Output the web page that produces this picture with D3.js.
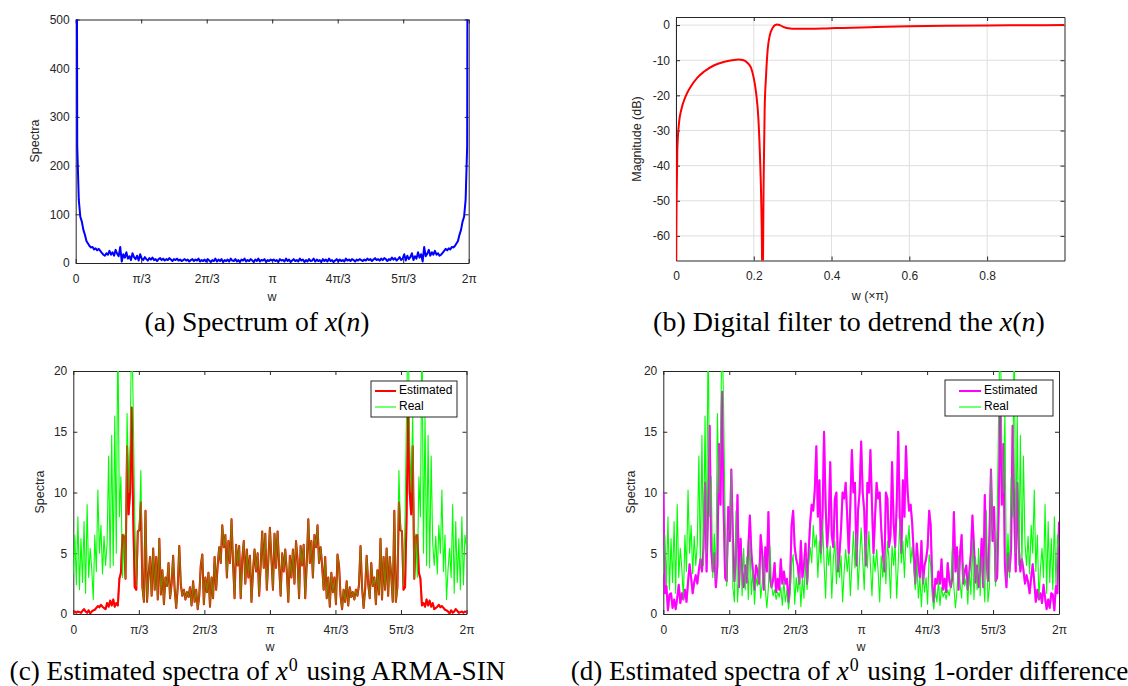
<!DOCTYPE html>
<html><head><meta charset="utf-8">
<script src="https://cdn.jsdelivr.net/npm/d3@7"></script>
<style>body{margin:0;background:#fff}svg{display:block}</style>
</head><body>
<svg id="fig" width="1128" height="686"></svg>
<script>
// ---------------- data ----------------
const piTickLabels = ["0","π/3","2π/3","π","4π/3","5π/3","2π"];
const piTickUnits = [0,1,2,3,4,5,6];           // multiples of π/3
const spectraATicks = [0,100,200,300,400,500];
const spectraCTicks = [0,5,10,15,20];
const filterXTicks = [0,0.2,0.4,0.6,0.8];
const filterXTickLabels = ["0","0.2","0.4","0.6","0.8"];
const filterYTicks = [0,-10,-20,-30,-40,-50,-60];

// (a) spectrum of x(n), 257 bins on [0, 2π]
const spectrumX = [2000,240,130,95,85,68,58,45,40,35,32,33,28,30,26,29,25,21,17,15,20,17,25,17,22,15,27,19,14,33,3,18,11,22,9,14,6,20,12,8,15,5,18,9,6,12,8,5,10,7,11,6,8,4,8,10,6,9,5,8,6,10,7,4,8,6,9,5,7,4,6,8,5,7,3,6,8,4,7,5,9,3,6,4,7,3,8,5,2,6,4,9,3,7,4,8,2,6,4,7,3,9,5,4,8,3,6,2,7,5,9,3,6,4,8,5,2,7,4,9,3,6,5,8,2,6,4,7,5,
7,4,6,2,8,5,6,3,9,4,7,2,5,8,4,6,3,9,5,7,2,6,3,8,4,5,9,3,7,4,6,2,8,4,7,3,9,4,6,2,5,8,3,7,4,6,3,9,5,7,4,8,6,3,7,5,8,6,4,7,5,9,6,8,4,7,10,6,8,5,9,6,10,8,4,8,6,11,7,10,5,8,12,6,9,18,5,15,8,12,20,6,14,9,22,11,18,3,33,14,19,27,15,22,17,25,17,20,15,17,21,25,29,26,30,28,33,32,35,40,45,58,68,85,95,130,240,2000];

// (b) digital filter magnitude response
const filterW  = [0,0.0008,0.0017,0.0034,0.0077,0.0136,0.0247,0.0374,0.0545,0.0715,0.097,0.1226,0.144,0.161,0.174,0.184,0.193,0.199,0.206,0.212,0.216,0.2196,0.2213,0.2225,0.2238,0.2255,0.228,0.2315,0.2357,0.2417,0.2485,0.2545,0.2604,0.267,0.2757,0.2885,0.31,0.344,0.386,0.429,0.5,0.6,0.7,0.8,0.9,0.999];
const filterDb = [-120,-62,-48.9,-35.5,-27.9,-24.1,-20.3,-17.6,-15.0,-13.3,-11.5,-10.5,-10.0,-9.8,-10.0,-10.8,-12.2,-14.6,-19.3,-26.9,-37.4,-52.6,-67,-120,-67,-43,-24,-14.6,-7.0,-2.7,-0.8,0,0.2,0,-0.5,-0.9,-1.05,-1.05,-0.95,-0.8,-0.6,-0.35,-0.2,-0.1,-0.05,0];

// real spectra of x0 (same in c and d)
const realSpectra = [3.3,6.5,2.4,8.0,2.0,6.2,2.6,7.6,1.7,9.0,3.0,5.4,3.7,1.2,6.5,3.5,10.2,5.0,7.3,3.3,6.4,4.0,5.8,13.0,3.8,14.7,4.0,16.3,5.0,24.0,8.0,11.3,3.0,6.6,2.9,16.5,10.0,14.0,24.0,17.0,8.0,2.3,6.8,7.0,11.8,2.2,1.0,8.5,1.0,3.2,4.7,1.5,5.4,2.0,4.7,1.2,6.2,1.6,3.6,0.8,3.0,2.3,4.2,1.3,2.5,4.8,2.0,0.5,2.2,5.6,2.4,1.5,2.0,1.2,1.8,1.4,2.2,0.7,2.7,1.0,2.0,0.4,1.5,4.0,4.9,0.8,3.0,1.8,3.4,0.6,3.0,1.3,4.7,2.0,4.0,5.5,4.2,7.3,5.5,6.5,3.0,6.0,4.2,7.8,4.2,1.3,5.7,4.0,5.6,1.3,4.5,6.0,2.5,5.3,3.0,4.8,1.0,3.5,5.3,3.5,5.0,1.5,4.0,6.8,3.8,6.6,2.0,4.5,7.1,
4.5,2.0,6.6,3.8,6.8,4.0,1.5,5.0,3.5,5.3,3.5,1.0,4.8,3.0,5.3,2.5,6.0,4.5,1.3,5.6,4.0,5.7,1.3,4.2,7.8,4.2,6.0,3.0,6.5,5.5,7.3,4.2,5.5,4.0,2.0,4.7,1.3,3.0,0.6,3.4,1.8,3.0,0.8,4.9,4.0,1.5,0.4,2.0,1.0,2.7,0.7,2.2,1.4,1.8,1.2,2.0,1.5,2.4,5.6,2.2,0.5,2.0,4.8,2.5,1.3,4.2,2.3,3.0,0.8,3.6,1.6,6.2,1.2,4.7,2.0,5.4,1.5,4.7,3.2,1.0,8.5,1.0,2.2,11.8,7.0,6.8,2.3,8.0,17.0,24.0,14.0,10.0,16.5,2.9,6.6,3.0,11.3,8.0,24.0,5.0,16.3,4.0,14.7,3.8,13.0,5.8,4.0,6.4,3.3,7.3,5.0,10.2,3.5,6.5,1.2,3.7,5.4,3.0,9.0,1.7,7.6,2.6,6.2,2.0,8.0,2.4,6.5,5.5];

// (c) estimated spectra using ARMA-SIN
const armaSinSpectra = [0.15,0.2,0.1,0.2,0.15,0.1,0.25,0.4,0.2,0.1,0.3,0.05,0.2,0.3,0.35,0.5,0.65,0.55,0.75,0.6,0.5,0.4,0.9,0.6,1.1,0.7,1.2,0.6,0.9,0.7,2.9,3.4,6.5,6.4,2.9,13.8,8.2,10.0,17.0,8.0,2.2,2.0,6.8,6.9,9.2,
2.2,1.0,8.5,1.0,3.2,4.7,1.5,5.4,2.0,4.7,1.2,6.2,1.6,3.6,0.8,3.0,2.3,4.2,1.3,2.5,4.8,2.0,0.5,2.2,5.6,2.4,1.5,2.0,1.2,1.8,1.4,2.2,0.7,2.7,1.0,2.0,0.4,1.5,4.0,4.9,0.8,3.0,1.8,3.4,0.6,3.0,1.3,4.7,2.0,4.0,5.5,4.2,7.3,5.5,6.5,3.0,6.0,4.2,7.8,4.2,1.3,5.7,4.0,5.6,1.3,4.5,6.0,2.5,5.3,3.0,4.8,1.0,3.5,5.3,3.5,5.0,1.5,4.0,6.8,3.8,6.6,2.0,4.5,7.1,
4.5,2.0,6.6,3.8,6.8,4.0,1.5,5.0,3.5,5.3,3.5,1.0,4.8,3.0,5.3,2.5,6.0,4.5,1.3,5.6,4.0,5.7,1.3,4.2,7.8,4.2,6.0,3.0,6.5,5.5,7.3,4.2,5.5,4.0,2.0,4.7,1.3,3.0,0.6,3.4,1.8,3.0,0.8,4.9,4.0,1.5,0.4,2.0,1.0,2.7,0.7,2.2,1.4,1.8,1.2,2.0,1.5,2.4,5.6,2.2,0.5,2.0,4.8,2.5,1.3,4.2,2.3,3.0,0.8,3.6,1.6,6.2,1.2,4.7,2.0,5.4,1.5,4.7,3.2,1.0,8.5,1.0,2.2,
9.2,6.9,6.8,2.0,2.2,8.0,17.0,10.0,8.2,13.8,2.9,6.4,6.5,3.4,2.9,0.7,0.9,0.6,1.2,0.7,1.1,0.6,0.9,0.4,0.5,0.6,0.75,0.55,0.65,0.5,0.35,0.3,0.2,0.05,0.3,0.1,0.2,0.4,0.25,0.1,0.15,0.2,0.1,0.2,0.15];

// (d) estimated spectra using 1-order difference
const diffSpectra = [10.0,1.7,2.3,0.3,1.6,1.7,0.5,1.2,0.4,1.3,2.4,0.9,1.7,1.2,2.0,1.0,2.6,4.1,3.0,1.7,2.6,3.2,2.5,3.6,4.5,3.5,5.5,10.8,3.5,8.7,15.5,5.3,3.5,5.0,2.2,4.0,14.0,9.0,18.3,8.8,3.0,2.7,8.8,6.0,11.9,6.5,2.7,4.8,9.8,2.2,6.2,3.5,2.2,4.0,2.6,5.5,8.1,5.0,3.5,2.0,4.0,3.5,2.5,6.5,5.0,2.0,5.5,3.5,8.4,3.0,2.2,2.8,4.2,1.8,2.9,2.0,4.5,2.5,3.5,2.5,2.9,1.0,2.5,7.3,8.5,5.5,4.5,4.0,2.5,6.0,3.0,4.0,5.8,2.5,5.0,7.5,9.0,8.5,10.2,13.8,8.0,11.0,5.0,8.0,15.0,9.0,5.5,7.5,12.5,6.5,5.5,9.5,10.0,3.5,5.0,7.0,10.0,9.5,10.8,8.0,5.0,9.0,13.5,10.0,10.8,4.0,8.5,10.0,14.2,
10.0,8.5,4.0,10.8,10.0,13.5,9.0,5.0,8.0,10.8,9.5,10.0,7.0,5.0,3.5,10.0,9.5,5.5,6.5,12.5,7.5,5.5,9.0,15.0,8.0,5.0,11.0,8.0,13.8,10.2,8.5,9.0,7.5,5.0,2.5,5.8,4.0,3.0,6.0,2.5,4.0,4.5,5.5,8.5,7.3,2.5,1.0,2.9,2.5,3.5,2.5,4.5,2.0,2.9,1.8,4.2,2.8,2.2,3.0,8.4,3.5,5.5,2.0,5.0,6.5,2.5,3.5,4.0,2.0,3.5,5.0,8.1,5.5,2.6,4.0,2.2,3.5,6.2,2.2,9.8,4.8,2.7,6.5,11.9,6.0,8.8,2.7,3.0,8.8,18.3,9.0,14.0,4.0,2.2,5.0,3.5,5.3,15.5,8.7,3.5,10.8,5.5,3.5,4.5,3.6,2.5,3.2,2.6,1.7,3.0,4.1,2.6,1.0,2.0,1.2,1.7,0.9,2.4,1.3,0.4,1.2,0.5,1.7,1.6,0.3,2.3,1.7,7.6];

// ---------------- drawing ----------------
const svg = d3.select("#fig");
const SANS = "'Liberation Sans', Arial, Helvetica, sans-serif";
const SERIF = "'Liberation Serif', 'Times New Roman', serif";
const INK = "#262626";
const BINS = 256;
const omega = d => d.map((v, k) => [k * 2 * Math.PI / BINS, v]);

const boxes = {
  a: {x0: 75.7, x1: 468.7, y0: 19.5, y1: 263},
  b: {x0: 676, x1: 1064.5, y0: 17, y1: 260.5},
  c: {x0: 73.3, x1: 466.5, y0: 371, y1: 614},
  d: {x0: 663.3, x1: 1059, y0: 371, y1: 614}
};

function makeAxes(id, P, xDomain, yDomain, xt, xtl, yt, ytl, grid) {
  const x = d3.scaleLinear().domain(xDomain).range([P.x0, P.x1]);
  const y = d3.scaleLinear().domain(yDomain).range([P.y1, P.y0]);
  const g = svg.append("g");
  svg.append("clipPath").attr("id", "clip-" + id).append("rect")
    .attr("x", P.x0).attr("y", P.y0).attr("width", P.x1 - P.x0).attr("height", P.y1 - P.y0);
  if (grid) {
    g.append("g").selectAll("line").data(xt).join("line")
      .attr("x1", d => x(d)).attr("x2", d => x(d)).attr("y1", P.y0).attr("y2", P.y1)
      .attr("stroke", "#dfdfdf").attr("stroke-width", 1);
    g.append("g").selectAll("line").data(yt).join("line")
      .attr("y1", d => y(d)).attr("y2", d => y(d)).attr("x1", P.x0).attr("x2", P.x1)
      .attr("stroke", "#dfdfdf").attr("stroke-width", 1);
  }
  const fx = (d, i) => xtl[i];
  const fy = (d, i) => ytl[i];
  g.append("g").attr("transform", `translate(0,${P.y1})`)
    .call(d3.axisBottom(x).tickValues(xt).tickFormat(fx).tickSizeInner(-4).tickSizeOuter(0).tickPadding(11));
  g.append("g").attr("transform", `translate(0,${P.y0})`)
    .call(d3.axisTop(x).tickValues(xt).tickFormat("").tickSizeInner(-4).tickSizeOuter(0));
  g.append("g").attr("transform", `translate(${P.x0},0)`)
    .call(d3.axisLeft(y).tickValues(yt).tickFormat(fy).tickSizeInner(-4).tickSizeOuter(0).tickPadding(6));
  g.append("g").attr("transform", `translate(${P.x1},0)`)
    .call(d3.axisRight(y).tickValues(yt).tickFormat("").tickSizeInner(-4).tickSizeOuter(0));
  g.selectAll(".domain").attr("stroke", INK).attr("stroke-width", 1);
  g.selectAll(".tick line").attr("stroke", INK).attr("stroke-width", 1);
  g.selectAll("text").attr("fill", INK).attr("font-family", SANS).attr("font-size", 12);
  return {x, y, clip: `url(#clip-${id})`};
}

function drawLine(ax, pts, color, width, opacity, curve) {
  const line = d3.line().x(d => ax.x(d[0])).y(d => ax.y(d[1])).curve(curve || d3.curveLinear);
  svg.append("path").datum(pts).attr("clip-path", ax.clip)
    .attr("d", line).attr("fill", "none").attr("stroke", color)
    .attr("stroke-width", width).attr("stroke-opacity", opacity == null ? 1 : opacity)
    .attr("stroke-linejoin", "round");
}

function label(txt, x, y, rot, size) {
  svg.append("text").attr("x", x).attr("y", y)
    .attr("transform", rot ? `rotate(-90,${x},${y})` : null)
    .attr("text-anchor", "middle").attr("dominant-baseline", "middle")
    .attr("font-family", SANS).attr("font-size", size || 12.5).attr("fill", INK).text(txt);
}

function caption(parts, cx, baseline, width) {
  const t = svg.append("text").attr("x", cx).attr("y", baseline).attr("text-anchor", "middle")
    .attr("font-family", SERIF).attr("font-size", 24).attr("fill", "#000");
  parts.forEach(p => {
    const s = t.append("tspan").text(p.t);
    if (p.i) s.attr("font-style", "italic");
    if (p.sup) s.attr("font-size", "66%").attr("dy", -9).attr("dx", 1);
    if (p.down) s.attr("dy", 9).attr("dx", 2);
  });
  const w = t.node().getComputedTextLength();
  t.attr("font-size", 24 * width / w);
}

function legend(L, items) {
  svg.append("rect").attr("x", L.x0).attr("y", L.y0).attr("width", L.x1 - L.x0).attr("height", L.y1 - L.y0)
    .attr("fill", "#fff").attr("stroke", INK).attr("stroke-width", 1);
  items.forEach((it, i) => {
    const yy = L.rows[i];
    svg.append("line").attr("x1", L.lx0).attr("x2", L.lx1).attr("y1", yy).attr("y2", yy)
      .attr("stroke", it.c).attr("stroke-width", it.w);
    svg.append("text").attr("x", L.tx).attr("y", yy).attr("dominant-baseline", "middle")
      .attr("font-family", SANS).attr("font-size", 12).attr("fill", "#000").text(it.t);
  });
}

const piVals = piTickUnits.map(u => u * Math.PI / 3);

// (a)
const A = makeAxes("a", boxes.a, [0, 2 * Math.PI], [0, 500], piVals, piTickLabels,
  spectraATicks, spectraATicks.map(String), false);
drawLine(A, omega(spectrumX), "#0000ff", 2);
label("Spectra", 36, 141, true);
label("w", 272, 298);
caption([{t: "(a)  Spectrum of "}, {t: "x", i: 1}, {t: "("}, {t: "n", i: 1}, {t: ")"}], 257, 331, 225);

// (b)
const B = makeAxes("b", boxes.b, [0, 0.999], [-67, 2.3], filterXTicks, filterXTickLabels,
  filterYTicks, filterYTicks.map(String), true);
drawLine(B, filterW.map((w, i) => [w, filterDb[i]]), "#ff0000", 2, 1, d3.curveMonotoneX);
label("Magnitude (dB)", 638, 139, true);
label("w (×π)", 870, 297);
caption([{t: "(b)  Digital filter to detrend the "}, {t: "x", i: 1}, {t: "("}, {t: "n", i: 1}, {t: ")"}], 849, 331, 392);

// (c)
const C = makeAxes("c", boxes.c, [0, 2 * Math.PI], [0, 20], piVals, piTickLabels,
  spectraCTicks, spectraCTicks.map(String), false);
drawLine(C, omega(armaSinSpectra), "#ff0000", 2);
drawLine(C, omega(realSpectra), "#00ff00", 1.1);
drawLine(C, omega(armaSinSpectra), "#ff0000", 2, 0.5);
label("Spectra", 41, 492, true);
label("w", 270, 648);
legend({x0: 371, x1: 457, y0: 381, y1: 417, lx0: 375, lx1: 396, tx: 399, rows: [391, 407]},
  [{t: "Estimated", c: "#ff0000", w: 2}, {t: "Real", c: "#00ff00", w: 1.1}]);
caption([{t: "(c)  Estimated spectra of "}, {t: "x", i: 1}, {t: "0", sup: 1}, {t: " using ARMA-SIN", down: 1}], 257.5, 680, 493);

// (d)
const D = makeAxes("d", boxes.d, [0, 2 * Math.PI], [0, 20], piVals, piTickLabels,
  spectraCTicks, spectraCTicks.map(String), false);
drawLine(D, omega(diffSpectra), "#ff00ff", 2);
drawLine(D, omega(realSpectra), "#00ff00", 1.1);
drawLine(D, omega(diffSpectra), "#ff00ff", 2, 0.5);
label("Spectra", 632, 492, true);
label("w", 861, 648);
legend({x0: 945, x1: 1053, y0: 380, y1: 416, lx0: 959, lx1: 981, tx: 984, rows: [391, 407]},
  [{t: "Estimated", c: "#ff00ff", w: 2}, {t: "Real", c: "#00ff00", w: 1.1}]);
caption([{t: "(d)  Estimated spectra of "}, {t: "x", i: 1}, {t: "0", sup: 1}, {t: " using 1-order difference", down: 1}], 849.5, 680, 555);
</script>
</body></html>
